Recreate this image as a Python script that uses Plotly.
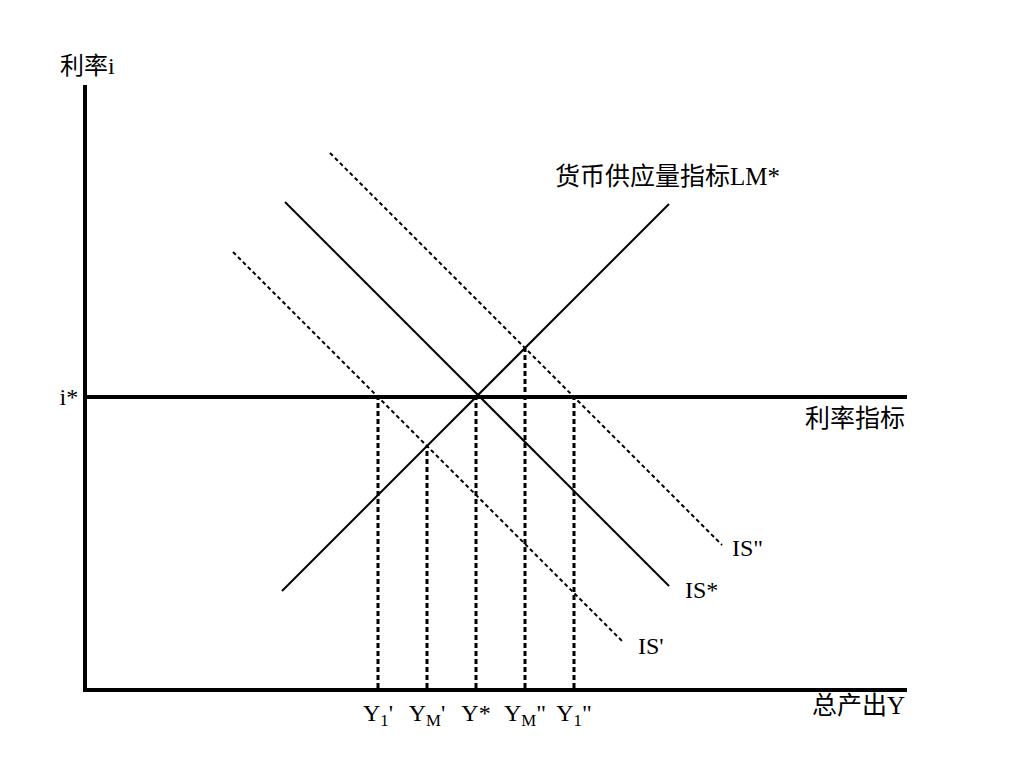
import plotly.graph_objects as go

# chart values (output on x, interest rate on y)
i_star = 291
lm_x = [195, 582]
lm_y = [97, 484]
is_star_x = [198, 582]
is_star_y = [486, 102]
is1_x = [146, 535]
is1_y = [436, 47]
is2_x = [243, 635]
is2_y = [535, 143]

y_marks = [291, 340, 389, 438, 487]
y_mark_tops = [291, 242, 291, 340, 291]
y_labels = ["Y<sub>1</sub>'", "Y<sub>M</sub>'", "Y*", "Y<sub>M</sub>\"", "Y<sub>1</sub>\""]

x_max = 820
y_max = 603

FONT = "Liberation Serif, Noto Sans CJK SC, serif"

fig = go.Figure()

# interest-rate target line
fig.add_trace(go.Scatter(x=[0, x_max], y=[i_star, i_star], mode="lines",
                         line=dict(color="black", width=4), hoverinfo="skip"))

# LM* and IS curves
fig.add_trace(go.Scatter(x=lm_x, y=lm_y, mode="lines",
                         line=dict(color="black", width=2), hoverinfo="skip"))
fig.add_trace(go.Scatter(x=is_star_x, y=is_star_y, mode="lines",
                         line=dict(color="black", width=2), hoverinfo="skip"))
for xs, ys in [(is1_x, is1_y), (is2_x, is2_y)]:
    fig.add_trace(go.Scatter(x=xs, y=ys, mode="lines",
                             line=dict(color="black", width=2, dash="4px,3px"),
                             hoverinfo="skip"))

# dotted drop lines to the output axis
for xv, top in zip(y_marks, y_mark_tops):
    fig.add_trace(go.Scatter(x=[xv, xv], y=[0, top], mode="lines",
                             line=dict(color="black", width=3, dash="5px,3px"),
                             hoverinfo="skip"))

annotations = [
    dict(x=0, y=y_max, text="利率i", xanchor="center", yanchor="bottom", yshift=4),
    dict(x=x_max, y=0, text="总产出Y", xanchor="right", yanchor="top", yshift=-2),
    dict(x=x_max, y=i_star, text="利率指标", xanchor="right", yanchor="top", yshift=-6),
    dict(x=lm_x[1], y=lm_y[1], text="货币供应量指标LM*", xanchor="center",
         yanchor="bottom", xshift=-2, yshift=12),
    dict(x=is2_x[1], y=is2_y[1], text="IS\"", xanchor="left", yanchor="middle", xshift=8, yshift=-3),
    dict(x=is_star_x[1], y=is_star_y[1], text="IS*", xanchor="left", yanchor="middle", xshift=14, yshift=-4),
    dict(x=is1_x[1], y=is1_y[1], text="IS'", xanchor="left", yanchor="middle", xshift=14, yshift=-5),
]
for a in annotations:
    a.update(xref="x", yref="y", showarrow=False, font=dict(family=FONT, size=24, color="black"))
for a in annotations[1:4]:
    a["font"]["size"] = 25

fig.update_layout(
    width=1019, height=764,
    margin=dict(l=79, r=120, t=77, b=84),
    plot_bgcolor="white", paper_bgcolor="white",
    showlegend=False,
    annotations=annotations,
    font=dict(family=FONT, size=24, color="black"),
    xaxis=dict(range=[0, x_max], showgrid=False, zeroline=False,
               showline=True, linecolor="black", linewidth=4,
               tickvals=y_marks, ticktext=y_labels, ticks="",
               tickfont=dict(family=FONT, size=24), fixedrange=True),
    yaxis=dict(range=[0, y_max], showgrid=False, zeroline=False,
               showline=True, linecolor="black", linewidth=4,
               tickvals=[i_star], ticktext=["i*"], ticks="",
               tickfont=dict(family=FONT, size=24), fixedrange=True),
)

fig.write_html("out.html")
